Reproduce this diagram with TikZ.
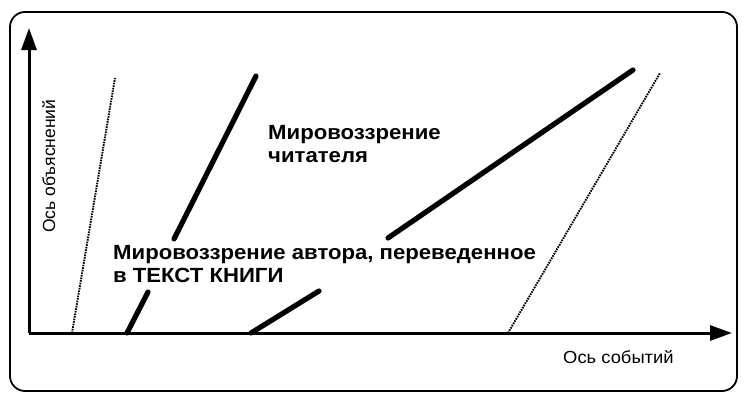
\documentclass[tikz,border=0pt]{standalone}
\usepackage{fontspec}
\setmainfont{Liberation Sans}
\newfontfamily\widebold[FakeStretch=1.08]{Liberation Sans Bold}
\newfontfamily\wideregular[FakeStretch=1.05]{Liberation Sans}
\usetikzlibrary{arrows.meta}
\begin{document}
\begin{tikzpicture}[x=1pt,y=-1pt,
  frame/.style={line width=1.8pt,rounded corners=15pt},
  axis/.style={line width=3pt,-{Triangle[length=22pt,width=15pt]}},
  worldline/.style={line width=5.2pt,line cap=round},
  dotline/.style={line width=1.9pt,dash pattern=on 1.6pt off 1pt},
  biglabel/.style={font=\widebold\fontsize{20.5}{23}\selectfont,align=left,inner sep=0pt,anchor=north west},
  axislabel/.style={font=\wideregular\fontsize{17.5}{20}\selectfont,inner sep=0pt,anchor=base west}
]
\useasboundingbox (0,0) rectangle (746,402);
\draw[frame] (10,12) rectangle (737,391);
% axes
\coordinate (O) at (29,333);
\coordinate (Ytip) at (29,28);
\coordinate (Xtip) at (732,333);
\draw[axis] (O) -- (Ytip);
\draw[axis] (O) -- (Xtip);
% dotted lines
\coordinate (d1a) at (72,333);
\coordinate (d1b) at (115,78);
\coordinate (d2a) at (508,333);
\coordinate (d2b) at (660,73);
\draw[dotline] (d1a) -- (d1b);
\draw[dotline] (d2a) -- (d2b);
% thick line 1
\coordinate (a1) at (127,333);
\coordinate (a2) at (148,292);
\coordinate (a3) at (174,239);
\coordinate (a4) at (256,76);
\draw[worldline] (a1) -- (a2);
\draw[worldline] (a3) -- (a4);
% thick line 2
\coordinate (b1) at (251,333);
\coordinate (b2) at (319,291);
\coordinate (b3) at (388,238);
\coordinate (b4) at (633,70);
\draw[worldline] (b1) -- (b2);
\draw[worldline] (b3) -- (b4);
% labels
\node[biglabel] (reader) at (268,125) {Мировоззрение\\читателя};
\node[biglabel] (author) at (113,245) {Мировоззрение автора, переведенное\\в ТЕКСТ КНИГИ};
\node[axislabel] (xlab) at (563,363) {Ось событий};
\node[axislabel,rotate=90,font=\fontsize{17.5}{20}\selectfont] (ylab) at (55,233) {Ось объяснений};
\end{tikzpicture}
\end{document}
